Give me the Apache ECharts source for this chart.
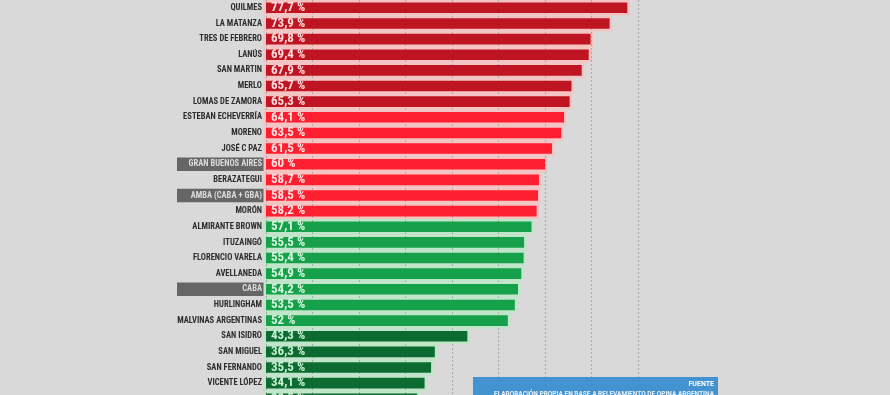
<!DOCTYPE html>
<html>
<head>
<meta charset="utf-8">
<script src="https://cdn.jsdelivr.net/npm/echarts@6/dist/echarts.min.js"></script>
<style>
html,body{margin:0;padding:0;background:#d9d9d9;overflow:hidden;height:395px;}
#c{width:890px;height:408px;}
</style>
</head>
<body>
<div id="c"></div>
<script>
const categories = ['QUILMES','LA MATANZA','TRES DE FEBRERO','LANÚS','SAN MARTIN','MERLO','LOMAS DE ZAMORA','ESTEBAN ECHEVERRÍA','MORENO','JOSÉ C PAZ','GRAN BUENOS AIRES','BERAZATEGUI','AMBA (CABA + GBA)','MORÓN','ALMIRANTE BROWN','ITUZAINGÓ','FLORENCIO VARELA','AVELLANEDA','CABA','HURLINGHAM','MALVINAS ARGENTINAS','SAN ISIDRO','SAN MIGUEL','SAN FERNANDO','VICENTE LÓPEZ',''];
const values = [77.7,73.9,69.8,69.4,67.9,65.7,65.3,64.1,63.5,61.5,60,58.7,58.5,58.2,57.1,55.5,55.4,54.9,54.2,53.5,52,43.3,36.3,35.5,34.1,32.5];
const highlighted = ['GRAN BUENOS AIRES','AMBA (CABA + GBA)','CABA'];
const sourceTitle = 'FUENTE';
const sourceText = 'ELABORACIÓN PROPIA EN BASE A RELEVAMIENTO DE OPINA ARGENTINA';

function tier(v){
  if (v >= 65) return {fill:'#bf1522', back:'#f6c3c3', label:'#ffdcdc'};
  if (v >= 58) return {fill:'#fd1f30', back:'#f6c3c3', label:'#ffe2e2'};
  if (v >= 50) return {fill:'#16a04a', back:'#bfe6c9', label:'#d6f5de'};
  return {fill:'#0b6b31', back:'#bfe6c9', label:'#c9f0d3'};
}

const NARROW = '"Liberation Sans Narrow", "Roboto Condensed", Roboto, sans-serif';
const chart = echarts.init(document.getElementById('c'));
const fmt = v => String(v).replace('.', ',') + ' %';
const FILL_H = 10.6, HALO = 2.5;

chart.setOption({
  backgroundColor:'#d9d9d9',
  animation:false,
  grid:{left:266, width:372, top:0, height:406.6, containLabel:false},
  xAxis:{
    type:'value', min:0, max:80, interval:10,
    axisLabel:{show:false}, axisLine:{show:false}, axisTick:{show:false},
    splitLine:{show:true, lineStyle:{color:'#a9a9a9', type:[2,2], width:1}},
    z:2
  },
  yAxis:{
    type:'category', inverse:true, data:categories,
    axisLine:{show:false}, axisTick:{show:false},
    axisLabel:{
      margin:0, interval:0,
      formatter: c => highlighted.includes(c) ? '{h|' + c + '}' : '{n|' + c + '}',
      rich:{
        n:{fontFamily:NARROW, fontWeight:'bold', fontSize:8.5, color:'#2e2e2e', padding:[0,4,0,0]},
        h:{fontFamily:NARROW, fontWeight:'bold', fontSize:8.5, color:'#dcdcdc', backgroundColor:'#666666',
           width:81, align:'right', padding:[2,4,2,4], height:9.4}
      }
    }
  },
  series:[
    {
      type:'custom', z:1, silent:true,
      data: values.map((v,i) => [v, i]),
      encode:{x:0, y:1},
      renderItem: (params, api) => {
        const v = api.value(0), idx = api.value(1);
        const p0 = api.coord([0, idx]);
        const p1 = api.coord([v, idx]);
        const t = tier(v);
        return {
          type:'rect',
          shape:{x:p0[0]-HALO, y:p0[1]-FILL_H/2-HALO, width:p1[0]-p0[0]+2*HALO, height:FILL_H+2*HALO},
          style:{fill:t.back}
        };
      }
    },
    {
      type:'bar', barWidth:FILL_H, z:3,
      data: values.map(v => ({value:v, itemStyle:{color:tier(v).fill},
        label:{color:tier(v).label}})),
      label:{show:true, position:'insideLeft', distance:5, formatter: p => fmt(p.value),
        fontFamily:NARROW, fontWeight:'bold', fontSize:13}
    }
  ],
  graphic:[
    {type:'rect', left:473, top:377, shape:{width:245, height:30}, style:{fill:'#3b8fd0', opacity:0.95}, z:10},
    {type:'text', right:890-714, top:381, style:{text:sourceTitle, fill:'#ffffff', font:'bold 7px Roboto', textAlign:'right'}, z:11},
    {type:'text', right:890-714, top:391, style:{text:sourceText, fill:'#e8f2fb', font:'bold 6.5px Roboto', textAlign:'right'}, z:11}
  ]
});
</script>
</body>
</html>
